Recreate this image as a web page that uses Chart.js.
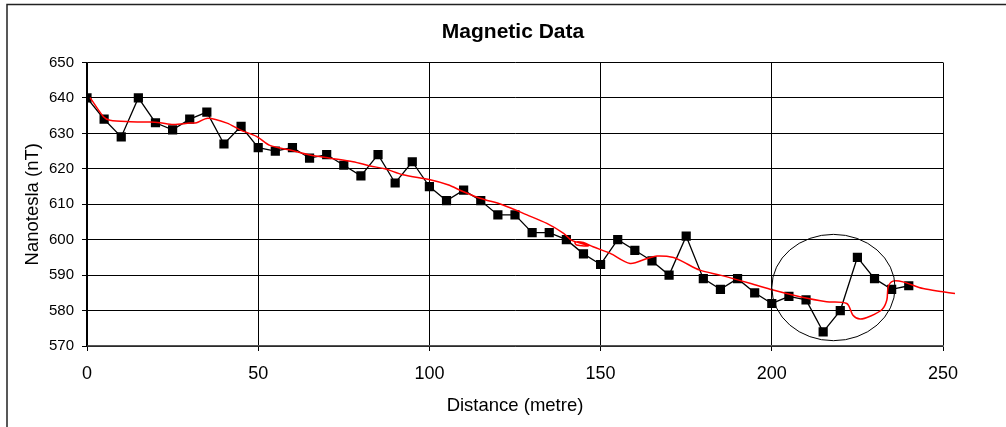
<!DOCTYPE html>
<html>
<head>
<meta charset="utf-8">
<script src="https://cdn.jsdelivr.net/npm/chart.js@4.4.1/dist/chart.umd.min.js"></script>
<style>
  html, body { margin: 0; padding: 0; background: #fff; }
  #wrap { width: 1006px; height: 427px; position: relative; }
</style>
</head>
<body>
<div id="wrap"><canvas id="chart"></canvas></div>
<script>
// Measured readings, every 5 m
const distance = [0, 5, 10, 15, 20, 25, 30, 35, 40, 45, 50, 55, 60, 65, 70, 75, 80, 85, 90, 95,
  100, 105, 110, 115, 120, 125, 130, 135, 140, 145, 150, 155, 160, 165, 170, 175, 180, 185, 190, 195,
  200, 205, 210, 215, 220, 225, 230, 235, 240];
const nanotesla = [640, 634, 629, 640, 633, 631, 634, 636, 627, 632, 626, 625, 626, 623, 624, 621, 618, 624, 616, 622,
  615, 611, 614, 611, 607, 607, 602, 602, 600, 596, 593, 600, 597, 594, 590, 601, 589, 586, 589, 585,
  582, 584, 583, 574, 580, 595, 589, 586, 587];

// Hand-drawn red trend line
const trendDistance = [0.9, 4.8, 6.7, 12.6, 18.4, 21.3, 25.2, 30, 32, 35.3, 40.9, 44.7, 49.6, 53.4, 59.3, 65.1, 71, 77.7,
  82.7, 87, 92.3, 100.2, 105.4, 109.8, 114.8, 121.5, 128.5, 134.3, 139.2, 141.6, 146.5, 143, 142.5, 145, 147.8,
  152.7, 158.6, 163.6, 166.5, 171.3, 174, 179, 184.9, 193.6, 200.4, 208.2, 216, 221.9, 223.7, 225.8, 228.7,
  232.2, 233.6, 234, 235.4, 238.3, 244.2, 250, 253.5];
const trendValue = [640.1, 634.7, 633.7, 633.3, 633.2, 633, 632.5, 632.9, 633, 634.3, 632.9, 631, 629.1, 626.6, 625.3, 623.9, 623, 622,
  620.8, 620, 618.3, 616.9, 615.5, 613.6, 611.7, 609.8, 607, 604.6, 601.8, 599.8, 598.3, 598.5, 599.3, 599.2, 598,
  596.2, 593.3, 594.7, 595.4, 595, 593.8, 591.4, 590, 587.7, 585.8, 583.9, 582.5, 582, 578.7, 577.6, 578.4,
  580.3, 583, 586.7, 588.3, 588.1, 586.2, 585.3, 584.8];

// circled anomaly: centre and radii in data units
const anomalyCentre = [218, 586.5];
const anomalyRadius = [18, 15];

const chartTitle = 'Magnetic Data';
const FONT = "'Liberation Sans', Arial, sans-serif";

const framePlugin = {
  id: 'frame',
  afterDraw(chart) {
    const ctx = chart.ctx;
    const xs = chart.scales.x, ys = chart.scales.y;
    ctx.save();
    // outer chart frame (only top and left visible)
    ctx.strokeStyle = '#222';
    ctx.lineWidth = 1.5;
    ctx.beginPath();
    ctx.moveTo(7, 427);
    ctx.lineTo(7, 4.5);
    ctx.lineTo(1006, 4.5);
    ctx.stroke();
    // title, centred on the whole chart box
    ctx.fillStyle = '#000';
    ctx.font = 'bold 21px ' + FONT;
    ctx.textAlign = 'center';
    ctx.textBaseline = 'middle';
    ctx.fillText(chartTitle, 513, 32);
    // ellipse around the anomaly
    const cx = xs.getPixelForValue(anomalyCentre[0]);
    const cy = ys.getPixelForValue(anomalyCentre[1]);
    const rx = xs.getPixelForValue(anomalyCentre[0] + anomalyRadius[0]) - cx;
    const ry = cy - ys.getPixelForValue(anomalyCentre[1] + anomalyRadius[1]);
    ctx.strokeStyle = '#000';
    ctx.lineWidth = 1;
    ctx.beginPath();
    ctx.ellipse(cx, cy, rx, ry, 0, 0, Math.PI * 2);
    ctx.stroke();
    ctx.restore();
  },
};

new Chart(document.getElementById('chart'), {
  type: 'line',
  data: {
    datasets: [
      {
        label: 'Trend',
        data: trendDistance.map((d, i) => ({ x: d, y: trendValue[i] })),
        borderColor: '#ff0000',
        borderWidth: 1.5,
        pointRadius: 0,
        tension: 0.3,
        clip: false,
        order: 0,
      },
      {
        label: 'Nanotesla',
        data: distance.map((d, i) => ({ x: d, y: nanotesla[i] })),
        borderColor: '#000',
        borderWidth: 1.3,
        pointStyle: 'rect',
        pointRadius: 6.5,
        pointBackgroundColor: '#000',
        pointBorderColor: '#000',
        pointBorderWidth: 0,
        tension: 0,
        order: 1,
      },
    ],
  },
  options: {
    responsive: true,
    maintainAspectRatio: false,
    animation: false,
    layout: { padding: { left: 0, right: 63, top: 62.5, bottom: 0 } },
    plugins: {
      legend: { display: false },
      tooltip: { enabled: false },
      title: { display: false },
    },
    scales: {
      x: {
        type: 'linear',
        min: 0,
        max: 250,
        afterFit: (s) => { s.height = 81; },
        ticks: { stepSize: 50, color: '#000', font: { family: FONT, size: 18 }, padding: 12, maxRotation: 0 },
        grid: { color: '#000', lineWidth: 1, tickLength: 5, tickColor: '#000' },
        border: { color: '#555', width: 1.5 },
        title: {
          display: true,
          text: 'Distance (metre)',
          color: '#000',
          font: { family: FONT, size: 18.5, lineHeight: 1.2 },
          padding: { top: 0, bottom: 10 },
        },
      },
      y: {
        min: 570,
        max: 650,
        afterFit: (s) => { s.width = 87; },
        ticks: { stepSize: 10, color: '#000', font: { family: FONT, size: 15 }, padding: 8 },
        grid: { color: '#000', lineWidth: 1, tickLength: 5, tickColor: '#000' },
        border: { color: '#000', width: 1.5 },
        title: {
          display: true,
          text: 'Nanotesla (nT)',
          color: '#000',
          font: { family: FONT, size: 18.5, lineHeight: 1.2 },
          padding: { top: 22, bottom: 0 },
        },
      },
    },
  },
  plugins: [framePlugin],
});
</script>
</body>
</html>
